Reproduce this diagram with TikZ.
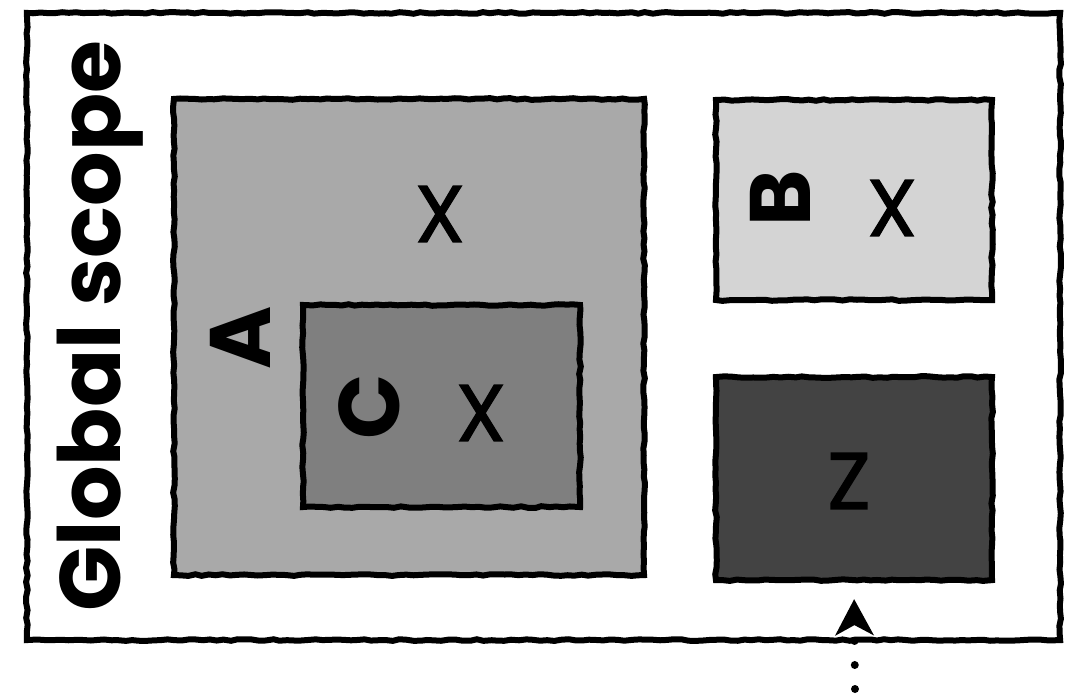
\documentclass[tikz,border=0pt]{standalone}
\usepackage{fontspec}
\setmainfont{Poppins}
\newfontfamily\varfont{Poppins}[FakeBold=1.6]
\usepackage{xcolor}
\usepackage{tikz}
\usetikzlibrary{positioning}
\usetikzlibrary{arrows.meta}
\usetikzlibrary{decorations.pathmorphing}

\definecolor{scopeA}{HTML}{A9A9A9}
\definecolor{scopeB}{HTML}{D4D4D4}
\definecolor{scopeC}{HTML}{7F7F7F}
\definecolor{scopeZ}{HTML}{434343}

\begin{document}
\begin{tikzpicture}[x=0.025cm, y=-0.025cm,
    scopebox/.style={draw=black, line width=0.15cm, inner sep=0pt,
      decorate, decoration={random steps, segment length=5pt, amplitude=0.6pt}},
    scopename/.style={font=\fontsize{61}{61}\selectfont\bfseries, rotate=90, inner sep=0pt},
    varname/.style={font=\varfont\fontsize{57}{57}\selectfont, inner sep=0pt},
    feed/.style={line width=0.2cm, line cap=round, dash pattern=on 0pt off 0.6cm,
      -{Stealth[length=0.9cm, width=0.95cm, inset=0.25cm]}, shorten >=0.4cm}]
					\useasboundingbox (0,0) rectangle (1072,695);

					\node[scopebox, fill=white, minimum width=25.825cm, minimum height=15.675cm] (G) at (543.5,326.5) {};
					\node[scopebox, fill=scopeA, minimum width=11.75cm, minimum height=11.9cm] (A) at (409,337) {};
					\node[scopebox, fill=scopeC, minimum width=6.925cm, minimum height=5.05cm] (C) at (441.5,406) {};
					\node[scopebox, fill=scopeB, minimum width=6.9cm, minimum height=5cm] (B) at (854,200) {};
					\node[scopebox, fill=scopeZ, minimum width=6.9cm, minimum height=5.075cm, below=1.775cm of B] (Z) {};

					% Scope names
					\node[scopename] (nG) at (100,326) {Global scope};
					\node[scopename] (nA) at (240,338) {A};
					\node[scopename] (nC) at (369,407) {C};
					\node[scopename] (nB) at (780,198) {B};

					% Variables
					\node[varname] (xA) at (440,214) {X};
					\node[varname] (xC) at (481,413) {X};
					\node[varname] (xB) at (892,208) {X};
					\node[varname] (zZ) at (849,481) {Z};

					% Reference from outside
					\coordinate (src) at (855,689);
					\draw[feed] (src) -- (Z.south);
\end{tikzpicture}
\end{document}
